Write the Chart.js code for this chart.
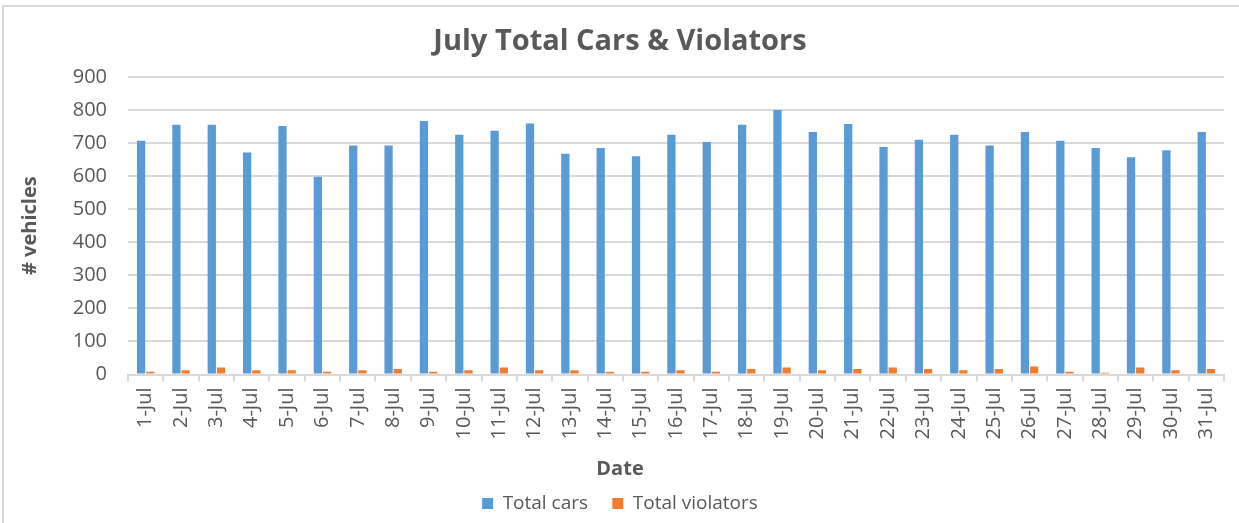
<!DOCTYPE html>
<html>
<head>
<meta charset="utf-8">
<script src="https://cdn.jsdelivr.net/npm/chart.js@4.4.0/dist/chart.umd.min.js"></script>
<style>
  html, body { margin: 0; padding: 0; background: #fff; }
  #wrap { position: relative; width: 1239px; height: 523px; overflow: hidden; }
  #frame {
    position: absolute; left: 2px; top: 5px; width: 1300px; height: 600px;
    border-left: 2px solid #d9d9d9; border-top: 2px solid #d9d9d9;
  }
  canvas { position: absolute; left: 0; top: 0; }
</style>
</head>
<body>
<div id="wrap">
  <div id="frame"></div>
  <canvas id="julyChart" width="1239" height="523"></canvas>
</div>
<script>
const dates = [
  "1-Jul", "2-Jul", "3-Jul", "4-Jul", "5-Jul", "6-Jul", "7-Jul", "8-Jul",
  "9-Jul", "10-Jul", "11-Jul", "12-Jul", "13-Jul", "14-Jul", "15-Jul", "16-Jul",
  "17-Jul", "18-Jul", "19-Jul", "20-Jul", "21-Jul", "22-Jul", "23-Jul", "24-Jul",
  "25-Jul", "26-Jul", "27-Jul", "28-Jul", "29-Jul", "30-Jul", "31-Jul",
];

const totalCars = [
  707, 755, 755, 671, 751, 598, 692, 692, 766, 725, 737, 759, 667, 685, 660, 725,
  703, 755, 800, 733, 757, 688, 710, 725, 692, 733, 707, 685, 657, 678, 733,
];

const totalViolators = [
  8, 13, 21, 13, 13, 8, 13, 17, 8, 13, 21, 13, 13, 8, 8, 13,
  8, 17, 21, 13, 17, 21, 17, 13, 17, 24, 8, 5, 21, 13, 17,
];

const yTicks = [0, 100, 200, 300, 400, 500, 600, 700, 800, 900];

const textColor = "#595959";
const gridColor = "#d9d9d9";
const font = "'Open Sans', 'Noto Sans', sans-serif";

Chart.defaults.font.family = font;
Chart.defaults.color = textColor;

const ctx = document.getElementById("julyChart").getContext("2d");

new Chart(ctx, {
  type: "bar",
  data: {
    labels: dates,
    datasets: [
      {
        label: "Total cars",
        data: totalCars,
        backgroundColor: "#5b9bd5",
        categoryPercentage: 0.52,
        barPercentage: 0.9,
      },
      {
        label: "Total violators",
        data: totalViolators,
        backgroundColor: "#ed7d31",
        categoryPercentage: 0.52,
        barPercentage: 0.9,
      },
    ],
  },
  options: {
    responsive: false,
    animation: false,
    layout: { padding: { left: 16, right: 15, top: 0, bottom: 0 } },
    plugins: {
      title: {
        display: true,
        text: "July Total Cars & Violators",
        color: textColor,
        font: { size: 29, weight: "bold" },
        padding: { top: 24, bottom: 18 },
      },
      // x axis name, centred on the whole chart like the original
      subtitle: {
        display: true,
        position: "bottom",
        weight: 500,
        text: "Date",
        color: textColor,
        font: { size: 20, weight: "bold" },
        padding: { top: 0, bottom: 3 },
      },
      legend: {
        position: "bottom",
        labels: {
          color: textColor,
          font: { size: 19 },
          boxWidth: 11,
          boxHeight: 11,
          padding: 10,
          generateLabels(chart) {
            const items = Chart.defaults.plugins.legend.labels.generateLabels(chart);
            items.forEach((it) => { it.lineWidth = 0; });
            items[0].text += "\u2002\u2005";
            return items;
          },
        },
      },
      tooltip: { enabled: false },
    },
    scales: {
      x: {
        grid: {
          drawOnChartArea: false,
          drawTicks: true,
          tickLength: 7,
          color: gridColor,
          lineWidth: 2,
        },
        border: { display: true, color: gridColor, width: 2 },
        ticks: {
          autoSkip: false,
          maxRotation: 90,
          minRotation: 90,
          padding: 6,
          color: textColor,
          font: { size: 20 },
        },
        afterFit(scale) { scale.height = 82.5; },
      },
      y: {
        min: 0,
        max: 900,
        afterBuildTicks(scale) { scale.ticks = yTicks.map((v) => ({ value: v })); },
        grid: { drawTicks: false, color: gridColor, lineWidth: 2 },
        border: { display: false },
        ticks: { padding: 21, color: textColor, font: { size: 20 } },
        title: {
          display: true,
          text: "# vehicles",
          color: textColor,
          font: { size: 20, weight: "bold" },
          padding: { top: 2, bottom: 0 },
        },
        afterFit(scale) { scale.width = 112; },
      },
    },
  },
});
</script>
</body>
</html>
